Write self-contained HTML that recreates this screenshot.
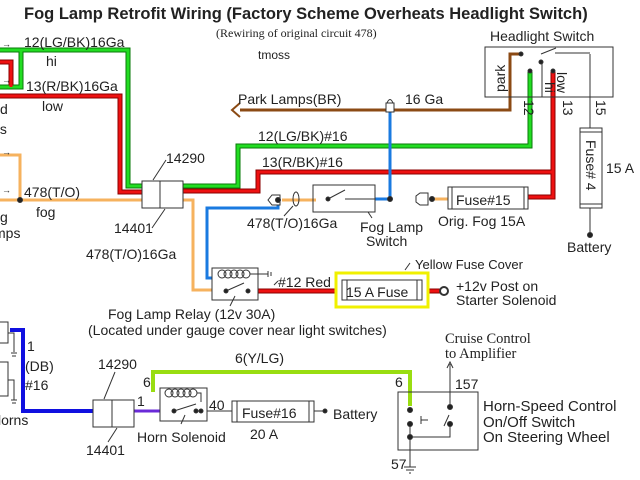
<!DOCTYPE html>
<html><head><meta charset="utf-8"><style>
html,body{margin:0;padding:0;background:#fff}
svg{display:block}
text{font-family:"Liberation Sans",sans-serif;font-size:14px;fill:#222}
.s{font-family:"Liberation Serif",serif}
</style></head><body>
<svg width="640" height="480" viewBox="0 0 640 480" xmlns="http://www.w3.org/2000/svg">
<rect width="640" height="480" fill="#fff"/>
<text x="24" y="19" style="font-weight:bold;font-size:16.5px">Fog Lamp Retrofit Wiring (Factory Scheme Overheats Headlight Switch)</text>
<text class="s" x="216" y="37" style="font-size:12px">(Rewiring of original circuit 478)</text>
<text x="258" y="59" style="font-size:12px">tmoss</text>

<g fill="none" stroke-linejoin="miter">
<g stroke-width="5">
<path d="M0 50H128V186H142" stroke="#0a7a0a"/>
<path d="M0 87H21V50" stroke="#0a7a0a"/>
<path d="M0 62H11V87" stroke="#8a0000"/>
<path d="M0 96H120V192H142" stroke="#8a0000"/>
<path d="M183 186H238V146H530V72" stroke="#0a7a0a"/>
<path d="M183 191H258V172H553V72" stroke="#8a0000"/>
<path d="M553 172V197H528" stroke="#8a0000"/>
<path d="M258 291H340M422 291H440" stroke="#8a0000"/>
</g>
<g stroke-width="3">
<path d="M0 50H128V186H142" stroke="#22dd22"/>
<path d="M0 87H21V50" stroke="#22dd22"/>
<path d="M0 62H11V87" stroke="#ee1111"/>
<path d="M0 96H120V192H142" stroke="#ee1111"/>
<path d="M183 186H238V146H530V72" stroke="#22dd22"/>
<path d="M183 191H258V172H553V72" stroke="#ee1111"/>
<path d="M553 172V197H528" stroke="#ee1111"/>
<path d="M258 291H340M422 291H440" stroke="#ee1111"/>
</g>
<path d="M0 155H20V200M0 200H142M183 200H193V290H212M282 200H316M432 199H448" stroke="#f6b25e" stroke-width="3"/>
<path d="M240 110H510V54H521" stroke="#8b4a14" stroke-width="3"/>
<path d="M240 103L232 110L240 117" stroke="#8b4a14" stroke-width="2"/>
<path d="M390 110V199H375M278 200V208H207V278H212" stroke="#1a7ae0" stroke-width="3"/>
<path d="M10 330H23V411H93" stroke="#1010e0" stroke-width="4"/>
<path d="M134 411H175" stroke="#6a2ad8" stroke-width="3"/>
<path d="M153 392V372H410V406" stroke="#99dd11" stroke-width="4"/>
</g>
<g fill="none" stroke="#333" stroke-width="1">
<rect x="142" y="181" width="41" height="27" fill="#fff"/><path d="M160 181V208M153 180L166 160M165 209L152 228"/>
<rect x="93" y="400" width="41" height="27" fill="#fff"/><path d="M112 400V427M104 399L115 372M117 428L108 442"/>
<rect x="485" y="47" width="128" height="50" fill="none"/>
<path d="M541 54L556 48M542 62V97M590 54V128M590 208V235M555 53H590"/>
<circle cx="521" cy="54" r="2" fill="#222"/><circle cx="541" cy="62" r="2" fill="#222"/><circle cx="553" cy="71" r="2" fill="#222"/><circle cx="530" cy="71" r="2" fill="#222"/><circle cx="590" cy="235" r="2.5" fill="#222"/>
<rect x="580" y="128" width="22" height="80" fill="#fff"/><path d="M580 132H602M580 204H602"/>
<rect x="448" y="187" width="80" height="22" fill="#fff"/><path d="M452 187V209M524 187V209"/>
<path d="M428 193H420L416 196V202L420 205H428Z" fill="#fff"/><circle cx="432" cy="199" r="2.5" fill="#222"/>
<rect x="313" y="185" width="62" height="27" fill="none"/>
<path d="M328 199L345 190M345 199H375M368 212L372 218"/>
<circle cx="328" cy="199" r="2" fill="#222"/><circle cx="390" cy="199" r="2.5" fill="#222"/><circle cx="20" cy="200" r="2.5" fill="#222"/>
<ellipse cx="296" cy="199" rx="3" ry="7"/><path d="M293 206L284 216"/>
<path d="M272 195H280V205H272L268 200Z" fill="#fff"/><circle cx="278" cy="200" r="2.5" fill="#222"/>
<rect x="386" y="103" width="8" height="9" fill="#fff"/><path d="M387 103Q390 96 393 103"/>
<rect x="212" y="268" width="46" height="32" fill="#fff"/>
<circle cx="222" cy="274" r="4"/><circle cx="228" cy="274" r="4"/><circle cx="234" cy="274" r="4"/><circle cx="240" cy="274" r="4"/><circle cx="246" cy="274" r="4"/>
<path d="M250 274H268M268 271V277M271 272V276M226 291L244 283M235 296L230 306M278 281L274 285"/>
<circle cx="226" cy="291" r="2" fill="#222"/><circle cx="248" cy="291" r="2" fill="#222"/>
<rect x="336" y="273" width="92" height="34" stroke="#f0f000" stroke-width="3" fill="#fff"/>
<rect x="342" y="280" width="80" height="20" fill="#fff"/><path d="M347 280V300M417 280V300M405 270L410 263"/>
<circle cx="444" cy="291" r="4" stroke-width="2" fill="#fff"/>
<path d="M0 322H8V343H0M0 362H8V396H0M8 333H14V352M8 380H14V400M11 353H17M12 356H16M11 400H17M12 403H16"/>
<rect x="160" y="388" width="47" height="33" fill="#fff"/>
<circle cx="169" cy="393" r="4"/><circle cx="175" cy="393" r="4"/><circle cx="181" cy="393" r="4"/><circle cx="187" cy="393" r="4"/><circle cx="193" cy="393" r="4"/>
<path d="M197 393H201V402M174 411L196 404M207 411H232M314 411H325M185 415L181 424"/>
<circle cx="174" cy="411" r="2" fill="#222"/><circle cx="196" cy="411" r="2" fill="#222"/><circle cx="201" cy="411" r="2" fill="#222"/><circle cx="325" cy="411" r="2" fill="#222"/>
<rect x="232" y="401" width="82" height="21" fill="#fff"/><path d="M237 401V422M309 401V422"/>
<rect x="398" y="392" width="80" height="58"/>
<path d="M410 422V437H450V424M450 407V364M447 368L450 362L453 368M421 416V424M421 420H428M444 426L449 415M410 437V467M404 467H416M406 470H414M409 473H411"/>
<circle cx="410" cy="410" r="2.5" fill="#222"/><circle cx="410" cy="424" r="2.5" fill="#222"/><circle cx="410" cy="437" r="2.5" fill="#222"/><circle cx="450" cy="407" r="2.5" fill="#222"/><circle cx="450" cy="424" r="2.5" fill="#222"/>
</g>
<text x="2" y="47" style="font-size:9px">→</text><text x="2" y="83" style="font-size:9px">→</text><text x="2" y="155" style="font-size:9px">→</text><text x="2" y="193" style="font-size:9px">→</text>
<text x="24" y="47">12(LG/BK)16Ga</text>
<text x="46" y="66">hi</text>
<text x="26" y="91">13(R/BK)16Ga</text>
<text x="42" y="111">low</text>
<text x="0" y="114">d</text><text x="-4" y="134">ts</text>
<text x="24" y="197">478(T/O)</text><text x="36" y="217">fog</text>
<text x="0" y="222">g</text><text x="-6" y="238">mps</text>
<text x="166" y="163">14290</text><text x="114" y="233">14401</text>
<text x="238" y="104">Park Lamps(BR)</text><text x="405" y="104">16 Ga</text>
<text x="258" y="141">12(LG/BK)#16</text>
<text x="262" y="167">13(R/BK)#16</text>
<text x="490" y="41">Headlight Switch</text>
<text transform="translate(505,92) rotate(-90)">park</text>
<text transform="translate(545,82) rotate(90)">hi</text>
<text transform="translate(557,72) rotate(90)">low</text>
<text transform="translate(524,100) rotate(90)">12</text>
<text transform="translate(563,100) rotate(90)">13</text>
<text transform="translate(596,100) rotate(90)">15</text>
<text transform="translate(586,140) rotate(90)">Fuse# 4</text>
<text x="606" y="173">15 A</text>
<text x="567" y="252">Battery</text>
<text x="456" y="205">Fuse#15</text>
<text x="438" y="226">Orig. Fog 15A</text>
<text x="247" y="228">478(T/O)16Ga</text>
<text x="360" y="232">Fog Lamp</text><text x="366" y="246">Switch</text>
<text x="86" y="259">478(T/O)16Ga</text>
<text x="278" y="287">#12 Red</text>
<text x="415" y="269" style="font-size:13px">Yellow Fuse Cover</text>
<text x="346" y="297">15 A Fuse</text>
<text x="456" y="291">+12v Post on</text><text x="456" y="305">Starter Solenoid</text>
<text x="108" y="319">Fog Lamp Relay (12v 30A)</text>
<text x="88" y="335">(Located under gauge cover near light switches)</text>
<text class="s" x="445" y="343" style="font-size:14.5px">Cruise Control</text><text class="s" x="445" y="358" style="font-size:14.5px">to Amplifier</text>
<text x="27" y="351">1</text><text x="25" y="371">(DB)</text><text x="25" y="390">#16</text><text x="-2" y="425">lorns</text>
<text x="98" y="369">14290</text><text x="86" y="455">14401</text>
<text x="235" y="363">6(Y/LG)</text>
<text x="143" y="387">6</text><text x="395" y="387">6</text><text x="137" y="406">1</text>
<text x="209" y="410">40</text>
<text x="242" y="418">Fuse#16</text><text x="250" y="439">20 A</text>
<text x="333" y="419">Battery</text>
<text x="137" y="442">Horn Solenoid</text>
<text x="455" y="389">157</text><text x="391" y="469">57</text>
<text x="483" y="411" style="font-size:15px">Horn-Speed Control</text><text x="483" y="427" style="font-size:15px">On/Off Switch</text><text x="483" y="442" style="font-size:15px">On Steering Wheel</text>
</svg>
</body></html>
